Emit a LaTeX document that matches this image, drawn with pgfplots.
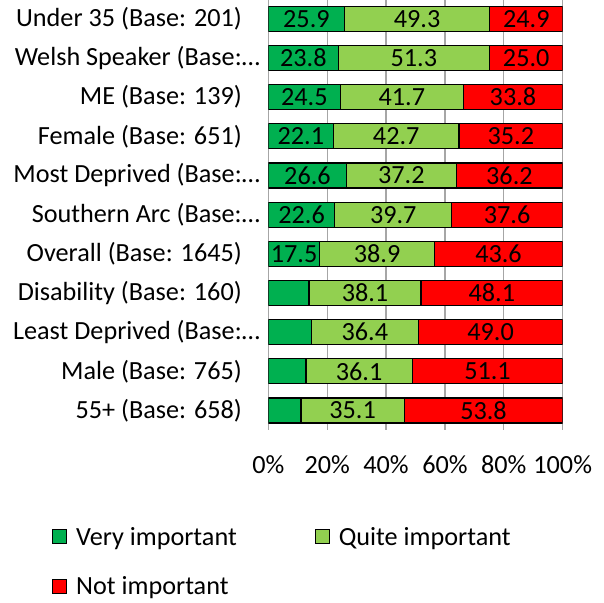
\documentclass[border=0pt]{standalone}
\usepackage{pgfplots}
\pgfplotsset{compat=1.18}
\usepackage{pgfplotstable}
\usepackage{fontspec}
\setmainfont{Carlito}
\definecolor{vgreen}{HTML}{00B050}
\definecolor{qgreen}{HTML}{92D050}
\definecolor{nred}{HTML}{FF0000}
\definecolor{gridgray}{HTML}{A6A6A6}
\newcommand\trunc[1]{#1\rlap{…}}
\pgfplotstableread{
idx a b c
0 25.9 49.3 24.9
1 23.8 51.3 25.0
2 24.5 41.7 33.8
3 22.1 42.7 35.2
4 26.6 37.2 36.2
5 22.6 39.7 37.6
6 17.5 38.9 43.6
7 13.8 38.1 48.1
8 14.6 36.4 49.0
9 12.8 36.1 51.1
10 11.1 35.1 53.8
}\data
\begin{document}
\begin{tikzpicture}[font=\fontsize{26.2bp}{31bp}\selectfont]
\pgfplotsset{
 common/.style={scale only axis, width=294.4bp, height=430.8bp,
   xmin=0, xmax=100, ymin=-0.5, ymax=10.5, y dir=reverse,
   /pgf/number format/assume math mode=true}
}
\begin{axis}[common,
  xbar stacked, bar width=25bp,
  axis line style={draw=none},
  xmajorgrids, grid style={draw=gridgray, line width=1.2bp},
  xtick={0,20,...,100},
  xticklabel={\pgfmathprintnumber{\tick}\%},
  xtick style={draw=none},
  major tick length=0pt,
  xticklabel style={yshift=-22bp},
  ytick={0,...,10},
  yticklabels={
    {Under 35 (Base: 201)},
    {\trunc{Welsh Speaker (Base:}},
    {ME (Base: 139)},
    {Female (Base: 651)},
    {\trunc{Most Deprived (Base:}},
    {\trunc{Southern Arc (Base:}},
    {Overall (Base: 1645)},
    {Disability (Base: 160)},
    {\trunc{Least Deprived (Base:}},
    {Male (Base: 765)},
    {55+ (Base: 658)}},
  ytick style={draw=none},
  yticklabel style={xshift=-23bp},
  minor ytick={-0.5,0.5,...,10.5},
  minor tick style={draw=gridgray, line width=1.2bp},
  minor tick length=5bp,
  tick align=outside,
  ytick pos=left,
  legend columns=2,
  legend cell align=left,
  legend style={draw=none, fill=none, inner sep=0pt,
    at={([xshift=-216.3bp, yshift=-97bp]axis description cs:0,0)},
    anchor=north west, nodes={inner sep=0pt},
    /tikz/every odd column/.append style={column sep=9bp},
    /tikz/every even column/.append style={column sep=78bp},
    row sep=30bp},
  legend image code/.code={\draw[#1,draw=black,line width=1bp] (0bp,-7bp) rectangle (14bp,7bp);},
]
\addplot[fill=vgreen, draw=black, line width=1.2bp] table[x=a, y=idx] \data;
\addlegendentry{Very important}
\addplot[fill=qgreen, draw=black, line width=1.2bp] table[x=b, y=idx] \data;
\addlegendentry{Quite important}
\addplot[fill=nred, draw=black, line width=1.2bp] table[x=c, y=idx] \data;
\addlegendentry{Not important}
\end{axis}
\begin{axis}[common, hide axis]
\pgfplotsset{lbl/.style={draw=none, mark=none, point meta=explicit,
  nodes near coords={\pgfmathprintnumber[fixed,fixed zerofill,precision=1]{\pgfplotspointmeta}},
  nodes near coords align=center,
  every node near coord/.append style={anchor=center, inner sep=0pt, text=black}}}
\addplot[lbl, skip coords between index={7}{11}] table[x expr=\thisrow{a}/2, y=idx, meta=a] \data;
\addplot[lbl] table[x expr=\thisrow{a}+\thisrow{b}/2, y=idx, meta=b] \data;
\addplot[lbl] table[x expr=\thisrow{a}+\thisrow{b}+\thisrow{c}/2, y=idx, meta=c] \data;
\end{axis}
\pgfresetboundingbox
\path[use as bounding box] (-268.3bp,-172.6bp) rectangle (335.7bp,430.0bp);
\end{tikzpicture}
\end{document}
